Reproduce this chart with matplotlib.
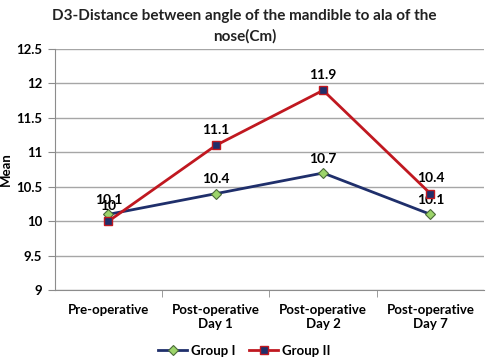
import matplotlib
matplotlib.use("Agg")
import matplotlib.pyplot as plt

categories = ["Pre-operative", "Post-operative\nDay 1", "Post-operative\nDay 2", "Post-operative\nDay 7"]
group1 = [10.1, 10.4, 10.7, 10.1]
group2 = [10.0, 11.1, 11.9, 10.4]
yticks = [9, 9.5, 10, 10.5, 11, 11.5, 12, 12.5]
ytick_labels = ["9", "9.5", "10", "10.5", "11", "11.5", "12", "12.5"]

plt.rcParams['font.family'] = ['Lato', 'DejaVu Sans']
plt.rcParams['font.weight'] = 'bold'

fig = plt.figure(figsize=(4.89, 3.6), dpi=100)
ax = fig.add_axes([0.112, 0.194, 0.878, 0.670])

x = list(range(len(categories)))
ax.plot(x, group1, color='#1F2F6B', lw=2, marker='D', ms=5.5,
        mfc='#9CD46A', mec='#4A6A3A', mew=0.8, label='Group I', zorder=3)
ax.plot(x, group2, color='#C01820', lw=2, marker='s', ms=6,
        mfc='#1F2F6B', mec='#C01820', mew=1, label='Group II', zorder=4)

for xi, v in zip(x, group1):
    ax.annotate(f"{v:g}", (xi, v), xytext=(0, 6), textcoords='offset points',
                ha='center', va='bottom', fontsize=10, fontweight='bold')
for xi, v in zip(x, group2):
    ax.annotate(f"{v:g}", (xi, v), xytext=(0, 7), textcoords='offset points',
                ha='center', va='bottom', fontsize=10, fontweight='bold')

ax.set_xlim(-0.5, 3.5)
ax.set_ylim(9, 12.5)
ax.set_yticks(yticks)
ax.set_yticklabels(ytick_labels, fontsize=9.5, fontweight='bold')
ax.set_xticks(x)
ax.set_xticklabels(categories, fontsize=9.5, fontweight='bold')
ax.set_xticks([0.5, 1.5, 2.5], minor=True)
ax.tick_params(axis='x', which='major', length=0, pad=10)
ax.tick_params(axis='x', which='minor', length=5, color='#8C8C8C', direction='out')
ax.tick_params(axis='y', length=5, color='#8C8C8C', direction='out', pad=4)
ax.grid(axis='y', color='#A6A6A6', lw=1)
ax.set_axisbelow(True)
for s in ['top', 'right']:
    ax.spines[s].set_visible(False)
for s in ['left', 'bottom']:
    ax.spines[s].set_color('#8C8C8C')
ax.set_ylabel('Mean', fontsize=9.5, fontweight='bold', labelpad=3)

fig.suptitle('D3-Distance between angle of the mandible to ala of the\nnose(Cm)',
             fontsize=11, fontweight='bold', y=0.975, color='#222222',
             linespacing=1.5)

leg = fig.legend(*ax.get_legend_handles_labels(), loc='center',
                 bbox_to_anchor=(0.5, 0.025), ncol=2,
                 frameon=False, fontsize=9.5, handlelength=2.2, columnspacing=1.0,
                 handletextpad=0.3)

fig.savefig('out.png', dpi=100)
